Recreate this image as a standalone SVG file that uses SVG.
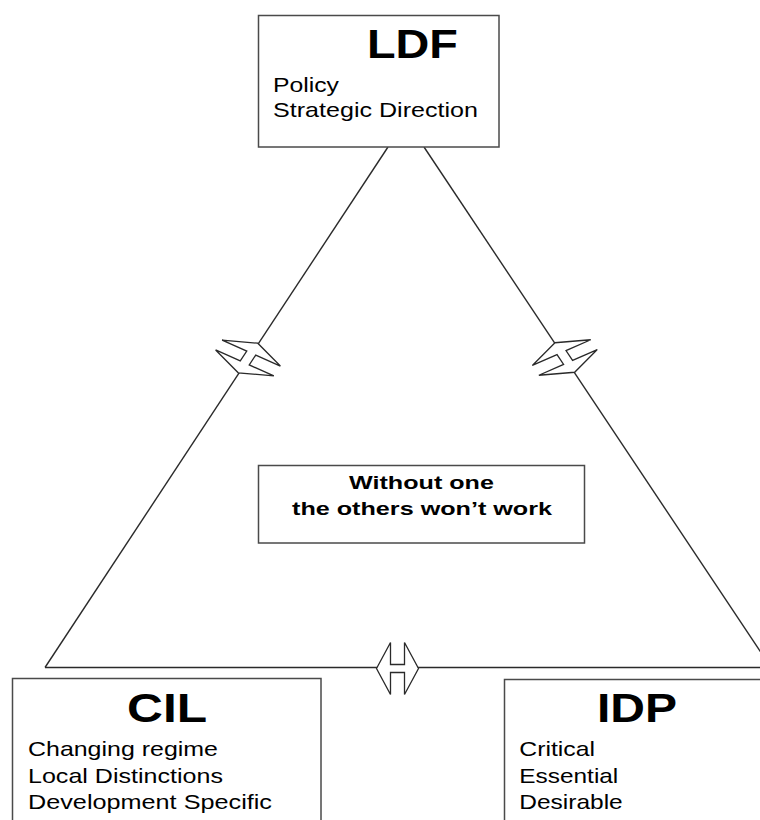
<svg xmlns="http://www.w3.org/2000/svg" xmlns:xlink="http://www.w3.org/1999/xlink" width="760" height="820" viewBox="0 0 760 820">
  <style>
    .box { fill: #ffffff; stroke: #4a4a4a; stroke-width: 1.5; }
    .link { fill: none; stroke: #2a2a2a; stroke-width: 1.4; }
    .title { font-family: "Liberation Sans", Arial, sans-serif; font-weight: bold; font-size: 41px; fill: #000; }
    .item { font-family: "Liberation Sans", Arial, sans-serif; font-size: 20px; fill: #000; }
    .note { font-family: "Liberation Sans", Arial, sans-serif; font-weight: bold; font-size: 18.5px; fill: #000; }
  </style>
  <defs>
    <!-- double-headed block arrow, drawn along the local x axis -->
    <path id="dbl-arrow" d="M-21,0 L-7,-26 L-7,-4 L7,-4 L7,-26 L21,0 L7,26 L7,4 L-7,4 L-7,26 Z"
          fill="#ffffff" stroke="#2a2a2a" stroke-width="1.3" stroke-linejoin="miter" vector-effect="non-scaling-stroke"/>
  </defs>

  <rect width="760" height="820" fill="#ffffff"/>

  <!-- connectors forming the triangle -->
  <g id="connectors">
    <line class="link" x1="388" y1="147" x2="45" y2="667.5"/>
    <line class="link" x1="424" y1="147" x2="771" y2="667.5"/>
    <line class="link" x1="45" y1="667.5" x2="770" y2="667.5"/>
    <use xlink:href="#dbl-arrow" transform="matrix(-0.465,0.705,1.12,0.5,248,358)"/>
    <use xlink:href="#dbl-arrow" transform="matrix(0.469,0.703,1.123,-0.494,564.8,357.5)"/>
    <use xlink:href="#dbl-arrow" transform="translate(397.5,668.5)"/>
  </g>

  <!-- text is set with a 1.2 horizontal stretch; textLength is in the stretched group's units -->
  <g id="ldf">
    <rect class="box" x="258.5" y="15.5" width="240.5" height="131.5"/>
    <text class="title" transform="translate(367,58) scale(1.2,1)" font-size="40" textLength="75.8" lengthAdjust="spacingAndGlyphs">LDF</text>
    <text class="item" transform="translate(273,91.5) scale(1.2,1)" textLength="55" lengthAdjust="spacingAndGlyphs">Policy</text>
    <text class="item" transform="translate(273,116.8) scale(1.2,1)" textLength="170.8" lengthAdjust="spacingAndGlyphs">Strategic Direction</text>
  </g>

  <g id="note">
    <rect class="box" x="258.5" y="465.5" width="326" height="77.5"/>
    <text class="note" transform="translate(349,489) scale(1.2,1)" textLength="120.8" lengthAdjust="spacingAndGlyphs">Without one</text>
    <text class="note" transform="translate(292,515) scale(1.2,1)" textLength="216.7" lengthAdjust="spacingAndGlyphs">the others won’t work</text>
  </g>

  <g id="cil">
    <rect class="box" x="12.5" y="678.5" width="308.5" height="160"/>
    <text class="title" transform="translate(127,722) scale(1.2,1)" textLength="66.7" lengthAdjust="spacingAndGlyphs">CIL</text>
    <text class="item" transform="translate(28,755.7) scale(1.2,1)" textLength="158.3" lengthAdjust="spacingAndGlyphs">Changing regime</text>
    <text class="item" transform="translate(28,783) scale(1.2,1)" textLength="162.5" lengthAdjust="spacingAndGlyphs">Local Distinctions</text>
    <text class="item" transform="translate(28,809) scale(1.2,1)" textLength="203.3" lengthAdjust="spacingAndGlyphs">Development Specific</text>
  </g>

  <g id="idp">
    <rect class="box" x="504.5" y="679.5" width="270" height="160"/>
    <text class="title" transform="translate(597,722) scale(1.2,1)" textLength="66.7" lengthAdjust="spacingAndGlyphs">IDP</text>
    <text class="item" transform="translate(519.3,755.7) scale(1.2,1)" textLength="63.1" lengthAdjust="spacingAndGlyphs">Critical</text>
    <text class="item" transform="translate(519.3,782.7) scale(1.2,1)" textLength="82.5" lengthAdjust="spacingAndGlyphs">Essential</text>
    <text class="item" transform="translate(519.3,809) scale(1.2,1)" textLength="86.2" lengthAdjust="spacingAndGlyphs">Desirable</text>
  </g>
</svg>
